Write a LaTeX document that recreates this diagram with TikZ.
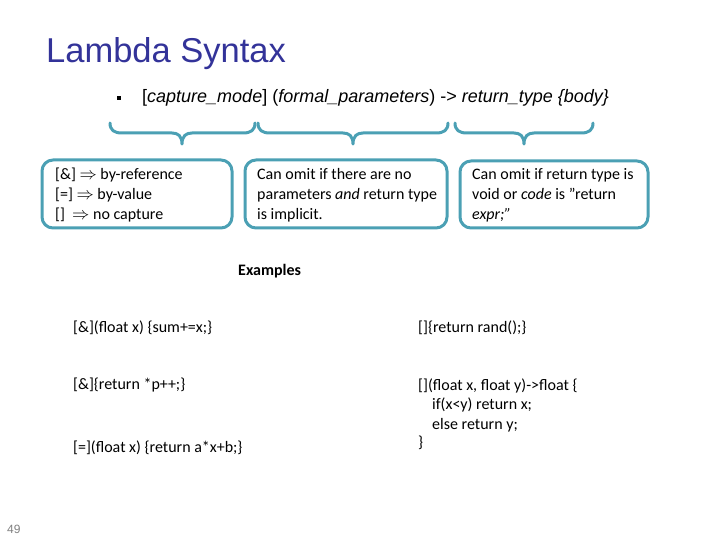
\documentclass[tikz,border=0pt]{standalone}
\usepackage{fontspec}
\setmainfont{Carlito}
\newfontfamily\arialfont{Liberation Sans}
\definecolor{titleblue}{RGB}{51,51,153}
\definecolor{tealc}{RGB}{75,160,180}
\definecolor{pagegray}{RGB}{128,128,128}
\tikzset{
  txt/.style={anchor=base west, inner sep=0pt, font=\fontsize{16}{19}\selectfont},
  bracepath/.style={draw=tealc, line width=3pt, line cap=round, line join=round},
  bbox/.style={draw=tealc, line width=3pt, rounded corners=11pt, inner sep=0pt},
}
\newcommand{\mybrace}[3]{%
  \draw[bracepath] (#1,123) .. controls (#1,130) and (#1+4,133) .. (#1+12,133)
    -- (#2-10,133) .. controls (#2-4,133) and (#2,136) .. (#2,144)
    .. controls (#2,136) and (#2+4,133) .. (#2+10,133)
    -- (#3-12,133) .. controls (#3-4,133) and (#3,130) .. (#3,123);}
\begin{document}
\begin{tikzpicture}[x=1pt,y=-1pt]
\useasboundingbox (0,0) rectangle (720,540);
% title
\node[anchor=base west, inner sep=0pt, text=titleblue, font=\arialfont\fontsize{34.5}{40}\selectfont] (title) at (46,63) {Lambda Syntax};
% bullet line
\node[fill=black, minimum size=4pt, inner sep=0pt] (bullet) at (119,98) {};
\node[anchor=base west, inner sep=0pt, font=\arialfont\fontsize{18}{22}\selectfont] (syntax) at (142,103)
  {[\textit{capture\_mode}] (\textit{formal\_parameters}) -> \textit{return\_type} \textit{\{body\}}};
% braces
\mybrace{110}{182}{255}
\mybrace{258}{353}{448}
\mybrace{455}{524}{593}
% boxes
\node[bbox, minimum width=190pt, minimum height=68pt] (box1) at (137,194) {};
\node[bbox, minimum width=202pt, minimum height=68pt] (box2) at (346,194) {};
\node[bbox, minimum width=188pt, minimum height=67pt] (box3) at (554,194.5) {};
% box texts
\node[txt] (b1a) at (55,180) {[\&] $\Rightarrow$ by-reference};
\node[txt] (b1b) at (55,199.5) {[=] $\Rightarrow$ by-value};
\node[txt] (b1c) at (55,219) {[]\ \ $\Rightarrow$ no capture};
\node[txt] (b2a) at (257,180) {Can omit if there are no};
\node[txt] (b2b) at (257,199.5) {parameters \textit{and} return type};
\node[txt] (b2c) at (257,219) {is implicit.};
\node[txt] (b3a) at (472,180) {Can omit if return type is};
\node[txt] (b3b) at (472,199.5) {void or \textit{code} is "return};
\node[txt] (b3c) at (472,219) {\textit{expr;"}};
% examples
\node[txt, font=\fontsize{16}{19}\selectfont\bfseries] (ex) at (238,275) {Examples};
\node[txt] (e1) at (73,332) {[\&](float x) \{sum+=x;\}};
\node[txt] (e2) at (73,389) {[\&]\{return *p++;\}};
\node[txt] (e3) at (73,452) {[=](float x) \{return a*x+b;\}};
\node[txt] (e4) at (418,332) {[]\{return rand();\}};
\node[txt] (e5) at (418,390) {[](float x, float y)->float \{};
\node[txt] (e6) at (432,409) {if(x<y) return x;};
\node[txt] (e7) at (432,429) {else return y;};
\node[txt] (e8) at (418,447) {\}};
% page number
\node[anchor=base west, inner sep=0pt, text=pagegray, font=\arialfont\fontsize{12}{14}\selectfont] (pnum) at (7,533) {49};
\end{tikzpicture}
\end{document}
